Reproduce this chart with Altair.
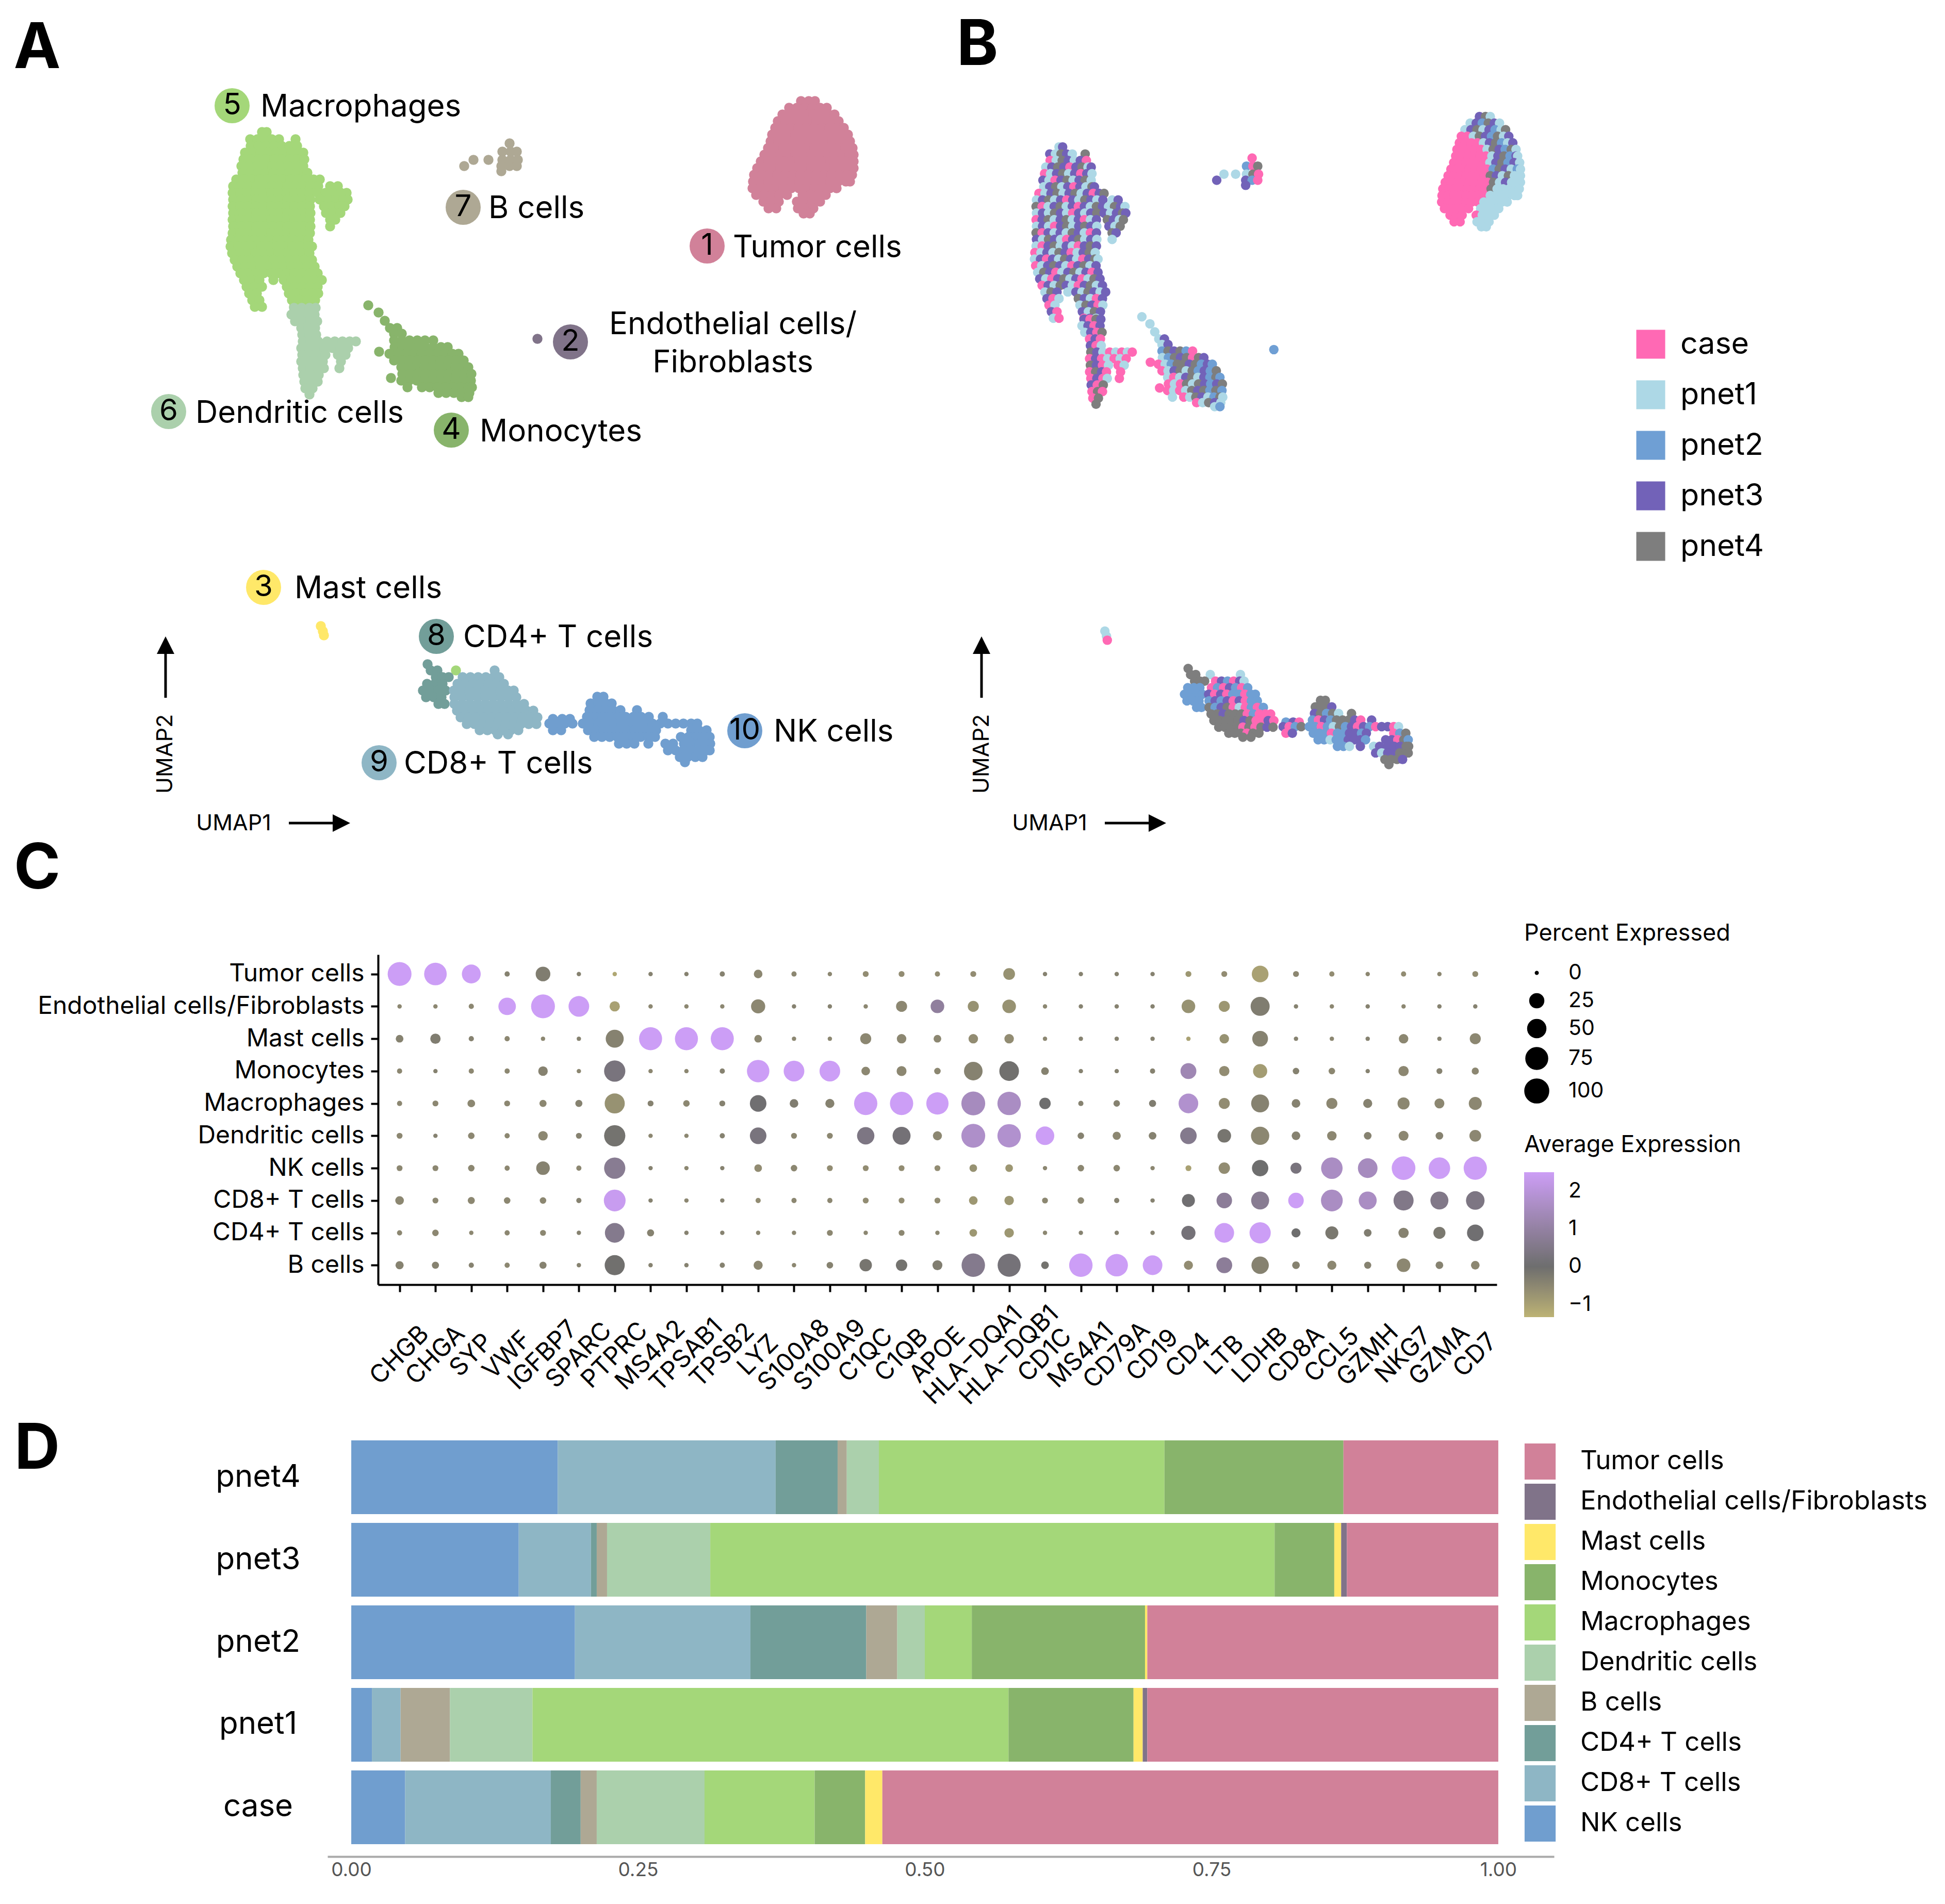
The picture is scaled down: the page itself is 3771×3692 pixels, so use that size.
import altair as alt
import pandas as pd

FONT = "Inter"
CELLS = ["Tumor cells", "Endothelial cells/Fibroblasts", "Mast cells", "Monocytes", "Macrophages",
         "Dendritic cells", "B cells", "CD4+ T cells", "CD8+ T cells", "NK cells"]
CELL_COLORS = ["#d18199", "#807389", "#ffe869", "#88b46b", "#a4d779", "#abd0ac", "#aea894", "#729e99", "#8eb6c5", "#709ecf"]
SAMPLES = ["case", "pnet1", "pnet2", "pnet3", "pnet4"]
SAMPLE_COLORS = ["#ff69b4", "#add8e6", "#6f9fd4", "#7262b8", "#7e7e7e"]
SAMPLE_KEY = dict(zip("abcde", SAMPLES))

TUMOR = [
 (196, "1553d 1568e 1580b"),
 (209, "1530b 1545d 1560c 1575e 1590d 1603b"),
 (222, "1517b 1532d 1547e 1562b 1577d 1592c 1607b 1618e"),
 (235, "1508a 1523a 1538b 1553e 1568d 1583c 1598e 1613b 1626d"),
 (248, "1503a 1518a 1533a 1548a 1563b 1578d 1593e 1608c 1623b 1636d"),
 (261, "1497a 1512a 1527a 1542a 1557a 1572b 1587e 1602d 1617c 1632e 1644b"),
 (274, "1494a 1509a 1524a 1539a 1554a 1569a 1584b 1599d 1614e 1629c 1644d 1648b"),
 (287, "1489a 1504a 1519a 1534a 1549a 1564a 1579b 1594d 1609e 1624c 1639d 1653b"),
 (300, "1482a 1497a 1512a 1527a 1542a 1557a 1572a 1587c 1602e 1617d 1632b 1647c 1655b"),
 (313, "1475a 1490a 1505a 1520a 1535a 1550a 1565a 1580e 1595d 1610b 1625e 1640b 1655b"),
 (326, "1468a 1483a 1498a 1513a 1528a 1543a 1558a 1573a 1588e 1603b 1618d 1633b 1648b 1655b"),
 (339, "1462a 1477a 1492a 1507a 1522a 1537a 1552a 1567a 1582e 1597b 1612b 1627b 1642b 1652b"),
 (352, "1460a 1475a 1490a 1505a 1520a 1535a 1550a 1565a 1580b 1595b 1610b 1625b 1640b 1648b"),
 (365, "1459a 1474a 1489a 1504a 1519a 1534a 1549a 1564b 1579b 1594b 1609b 1622b"),
 (378, "1466a 1481a 1496a 1511a 1526a 1556b 1571b 1586b 1601b"),
 (391, "1480a 1495a 1510a 1545a 1560b 1575b 1590b"),
 (404, "1490a 1505a 1547b 1562b 1577b"),
 (414, "1558b 1570b"),
]
MACRO = [
 (256, "508b 517d"),
 (270, "485d 499b 513e 527d 541b 573e"),
 (283, "486a 501b 516e 531d 546b 561d 576a"),
 (296, "475b 490d 505e 520d 535a 550d 565e 580b 588d"),
 (309, "472a 487b 502d 517e 532b 547d 562a 577d 590b"),
 (322, "468d 483b 498a 513d 528e 543b 558d 573e 588b"),
 (335, "470b 485d 500e 515b 530d 545a 560d 575b 590e 596d"),
 (348, "458a 473b 488d 503e 518b 533d 548e 563b 578d 593a 608d 620e"),
 (361, "452b 467d 482e 497b 512d 527a 542d 557b 572e 587d 602b 617d 640b 655d"),
 (374, "451e 466a 481b 496d 511e 526b 541d 556a 571d 586b 601e 616d 631b 646e 661d 672b"),
 (387, "452b 467d 482b 497e 512d 527b 542a 557d 572b 587d 602e 620d 636b 651d 666e 674d"),
 (400, "451a 466d 481e 496b 511d 526e 541b 556d 571a 586b 601d 628e 643d 658b 668e"),
 (413, "452b 467d 482b 497a 512d 527e 542b 557d 572e 587d 602b 632d 647b 660e"),
 (426, "451e 466a 481d 496b 511d 526b 541e 556d 571b 586a 601d 640e 650d"),
 (439, "452d 467b 482e 497d 512b 527a 542d 557e 572b 587d 602b 640b"),
 (452, "451b 466a 481d 496e 511b 526d 541b 556a 571d 586e 601d"),
 (465, "448a 463b 478d 493b 508e 523d 538a 553b 568d 583e 598b"),
 (478, "447b 462d 477a 492d 507b 522e 537d 552b 567a 582d 597e 605b"),
 (491, "450a 465b 480d 495e 510d 525b 540a 555d 570e 585b 600d"),
 (504, "455b 470e 485d 500a 515b 530d 545e 560b 575d 590a 605d"),
 (517, "460d 475b 490a 505d 520e 535b 550d 565a 580b 595e 610d"),
 (530, "466a 481d 496b 511e 526d 541b 556a 571d 586e 601b 616d"),
 (543, "473b 488e 503d 530b 550d 565b 580e 595d 610b 624d"),
 (556, "478d 493a 508b 556e 571d 586b 601a 616d"),
 (569, "483a 498b 560b 575e 590d 605a 617b"),
 (582, "489d 503a 566d 581b 596e 611d"),
 (595, "494b 508a 570a 585d 600b"),
 (1300, "884b"),
]
DENDRITIC = [
 (597, "570d 585a 600e 612d"),
 (610, "565b 580d 595a 610d"),
 (623, "572b 587d 602a 615e"),
 (636, "584a 598d 611a"),
 (649, "586d 600a 613b"),
 (662, "587e 602d 617b 634a 649b 664a 678b 690a"),
 (675, "584a 599d 614a 629b 645a 660b 675a"),
 (688, "586e 601d 616a 631b 655a 670b"),
 (701, "584a 599e 614d 626a 661a"),
 (714, "587a 602d 617a 628b 658a"),
 (727, "588d 603a 618e"),
 (740, "590a 604e 616a"),
 (753, "592a 606e"),
 (765, "600e"),
]
MONO = [
 (592, "714b"), (606, "734b"), (622, "746b"),
 (636, "756b 770d"),
 (647, "764b 779d"),
 (660, "764c 779e 794d 809e 824c 840a"),
 (673, "765b 780c 795e 810d 825e 840a 855e 868d"),
 (682, "735a"),
 (686, "755a 772b 787c 802e 817e 832d 847e 862c 877d 889c"),
 (699, "764a 779b 794d 809e 824b 839e 854c 869d 884c 899e"),
 (712, "778b 793a 808b 823d 838e 853b 868d 883c 898e 908c"),
 (725, "780a 795b 810a 825e 840b 855e 870d 885c 900d 914e"),
 (733, "758a"),
 (738, "778a 793b 808a 823b 838e 853d 868e 883c 898e 913c"),
 (751, "790b 818a 833b 848e 863d 878b 893c 908e 915b"),
 (762, "850a 865b 880e 895d 910b"),
 (770, "895b 908c"),
]
BCELL = [
 (278, "988a"), (294, "974c 990a 1002e"), (310, "974b 990e 1004a 947b 918b"),
 (322, "972d 988c 1002a 900d"), (332, "972d"),
]
ENDO = [(657, "1042c")]
MAST = [(1214, "622b"), (1224, "626b"), (1232, "628a")]
CD4 = [
 (1288, "829e"), (1300, "835e 848e"), (1313, "845e 858e 870e"),
 (1326, "828c 843c 858c"), (1339, "820c 835c 850c 864c"),
 (1352, "826c 841c 856c"), (1365, "850c 862c"),
]
CD8 = [
 (1300, "959b"),
 (1313, "897a 912d 927c 942a 957d 968b"),
 (1326, "887a 902c 917a 932d 947c 962a 977c"),
 (1339, "880d 895a 910d 925a 940c 955c 970a 985c 996c"),
 (1352, "881c 896d 911c 926d 941a 956d 971a 986c 1001c"),
 (1365, "881e 896c 911d 926e 941a 956b 971a 986c 1001a 1016c"),
 (1378, "886e 901e 916d 931e 946e 961e 976a 991c 1006a 1021a 1034a"),
 (1391, "893e 908e 923e 938e 953e 968d 983e 998a 1013a 1028d 1042a"),
 (1404, "905e 920e 935e 950e 965a 980e 995a 1010e 1025d 1040e"),
 (1416, "930e 945e 960e 975a 990e 1005e"),
 (1424, "965e 985e"),
]
NK = [
 (1351, "1158e 1170e"),
 (1364, "1145e 1160e 1175e 1186d"),
 (1377, "1143d 1158e 1173c 1188e 1203b 1235e"),
 (1390, "1138c 1153a 1168d 1183c 1198e 1213e 1228e 1243d 1258a 1285d"),
 (1394, "1072c 1090d 1105a"),
 (1403, "1065d 1080a 1095c 1110e 1130c 1145c 1160a 1175c 1190b 1205e 1220c 1235d 1250a 1265d 1280c 1295a 1310d 1325d 1340a 1352b"),
 (1416, "1072a 1088d 1140c 1155c 1170c 1185a 1200c 1215c 1230d 1245d 1260c 1272d 1340a 1355c 1370e"),
 (1429, "1152c 1167c 1182b 1197c 1212c 1227d 1242d 1257d 1270c 1320d 1335d 1350a 1365e 1376c"),
 (1442, "1200c 1215c 1230b 1257d 1290b 1305d 1326d 1341d 1356d 1371e 1377e"),
 (1455, "1295d 1310b 1325d 1340d 1355e 1370e 1376e"),
 (1468, "1318e 1333e 1348e 1362d"),
 (1478, "1328e"),
]
CLUSTERS = [("Macrophages", MACRO), ("Tumor cells", TUMOR), ("Dendritic cells", DENDRITIC), ("Monocytes", MONO),
            ("B cells", BCELL), ("Endothelial cells/Fibroblasts", ENDO), ("Mast cells", MAST),
            ("CD4+ T cells", CD4), ("CD8+ T cells", CD8), ("NK cells", NK)]

records = []
for cell, rows in CLUSTERS:
    for u2, toks in rows:
        for t in toks.split():
            records.append({"cell": cell, "umap1": int(t[:-1]), "umap2": u2, "sample": SAMPLE_KEY[t[-1]]})
umap = pd.DataFrame(records)

# Annotated cluster labels of panel A
BADGES = [("5", "Macrophages", 450, 205), ("7", "B cells", 898, 402), ("1", "Tumor cells", 1371, 477),
          ("2", "Endothelial cells/Fibroblasts", 1106, 663), ("6", "Dendritic cells", 327, 798),
          ("4", "Monocytes", 875, 834), ("3", "Mast cells", 511, 1139), ("8", "CD4+ T cells", 846, 1234),
          ("9", "CD8+ T cells", 735, 1479), ("10", "NK cells", 1444, 1417)]
LABELS_LEFT = [("Macrophages", 505, 208), ("B cells", 947, 405), ("Tumor cells", 1421, 481), ("Dendritic cells", 379, 802),
               ("Monocytes", 930, 838), ("Mast cells", 571, 1142), ("CD4+ T cells", 898, 1237), ("CD8+ T cells", 783, 1482),
               ("NK cells", 1500, 1420)]
LABELS_CENTER = [("Endothelial cells/", 1421, 630), ("Fibroblasts", 1421, 704)]
PANEL_LETTERS = [("A", 72, 95), ("B", 1895, 89), ("C", 72, 1686), ("D", 72, 2811)]
UMAP1_TEXT = [("UMAP1", 453, 1597), ("UMAP1", 2035, 1597)]
UMAP2_TEXT = [("UMAP2", 321, 1462), ("UMAP2", 1904, 1462)]
ARROWS_V = [(321, 1353, 1250), (1903, 1353, 1250)]
ARROWS_H = [(560, 660, 1596), (2142, 2242, 1596)]
HEADS_UP = [(321, 1251), (1903, 1251)]
HEADS_RIGHT = [(662, 1596), (2244, 1596)]
GRADIENT_TICKS = [(2955, 2967, 2308), (2997, 3009, 2308), (2955, 2967, 2381), (2997, 3009, 2381),
                  (2955, 2967, 2454), (2997, 3009, 2454), (2955, 2967, 2528), (2997, 3009, 2528)]

GENES = ["CHGB", "CHGA", "SYP", "VWF", "IGFBP7", "SPARC", "PTPRC", "MS4A2", "TPSAB1", "TPSB2", "LYZ", "S100A8", "S100A9",
         "C1QC", "C1QB", "APOE", "HLA\u2212DQA1", "HLA\u2212DQB1", "CD1C", "MS4A1", "CD79A", "CD19", "CD4", "LTB", "LDHB",
         "CD8A", "CCL5", "GZMH", "NKG7", "GZMA", "CD7"]
DOT_ROWS = ["Tumor cells", "Endothelial cells/Fibroblasts", "Mast cells", "Monocytes", "Macrophages", "Dendritic cells",
            "NK cells", "CD8+ T cells", "CD4+ T cells", "B cells"]
PCT = [
 [95, 80, 52, 2, 26, 1, 1, 1, 1, 2, 8, 2, 1, 3, 3, 2, 3, 16, 1, 1, 1, 1, 3, 3, 38, 3, 2, 1, 2, 1, 3],
 [1, 1, 2, 43, 95, 64, 12, 1, 1, 1, 24, 1, 1, 1, 14, 22, 14, 22, 1, 1, 1, 1, 22, 14, 53, 1, 1, 1, 1, 1, 1],
 [6, 12, 2, 2, 1, 1, 46, 85, 85, 85, 6, 1, 1, 14, 10, 6, 10, 10, 1, 1, 1, 1, 1, 10, 32, 1, 1, 1, 10, 1, 14],
 [2, 1, 2, 2, 10, 1, 68, 1, 1, 2, 78, 64, 64, 8, 11, 4, 50, 57, 6, 1, 1, 2, 33, 12, 24, 4, 4, 1, 12, 3, 5],
 [2, 3, 6, 3, 5, 5, 60, 3, 4, 3, 37, 8, 9, 88, 88, 76, 95, 90, 15, 2, 4, 5, 57, 14, 46, 8, 14, 9, 17, 11, 20],
 [3, 1, 4, 2, 10, 3, 68, 1, 1, 2, 37, 3, 3, 42, 46, 9, 95, 90, 50, 4, 7, 6, 37, 22, 48, 8, 10, 6, 11, 6, 16],
 [3, 3, 4, 2, 22, 2, 68, 1, 1, 1, 6, 4, 3, 3, 3, 3, 6, 6, 1, 4, 4, 1, 3, 15, 36, 14, 70, 57, 93, 70, 88],
 [8, 3, 5, 4, 4, 2, 72, 1, 1, 1, 2, 2, 2, 3, 3, 3, 8, 10, 3, 4, 2, 1, 20, 31, 46, 31, 72, 46, 60, 46, 50],
 [2, 4, 1, 2, 3, 1, 57, 5, 1, 1, 1, 1, 3, 1, 3, 1, 6, 10, 1, 1, 1, 1, 24, 57, 68, 9, 20, 6, 12, 17, 37],
 [7, 5, 2, 2, 5, 1, 60, 1, 1, 2, 9, 1, 4, 18, 15, 11, 90, 85, 6, 90, 78, 57, 9, 33, 42, 6, 9, 5, 22, 6, 8],
]
EXPR = [
 [2.5, 2.5, 2.5, -.4, -.3, -.4, -1.1, -.4, -.4, -.4, -.5, -.5, -.5, -.6, -.6, -.6, -.6, -.7, -.4, -.4, -.4, -.4, -.8, -.6, -1, -.5, -.6, -.5, -.6, -.5, -.6],
 [-.5, -.5, -.5, 2.5, 2.5, 2.5, -1, -.5, -.5, -.5, -.5, -.4, -.4, -.5, -.5, .9, -.7, -.7, -.5, -.4, -.4, -.4, -.7, -.8, -.3, -.4, -.5, -.4, -.5, -.4, -.4],
 [-.4, -.3, -.4, -.5, -.5, -.4, -.4, 2.5, 2.5, 2.5, -.5, -.5, -.5, -.5, -.5, -.5, -.6, -.6, -.5, -.4, -.4, -.4, -1, -.7, -.4, -.4, -.5, -.4, -.5, -.4, -.5],
 [-.5, -.4, -.5, -.5, -.4, -.5, .3, -.5, -.5, -.4, 2.5, 2.5, 2.5, -.5, -.5, -.5, -.4, -.05, -.4, -.4, -.4, -.4, 1.3, -.6, -.9, -.4, -.5, -.4, -.5, -.4, -.5],
 [-.5, -.5, -.5, -.5, -.5, -.4, -.7, -.4, -.5, -.4, .05, -.3, -.4, 2.5, 2.5, 2.5, 1.5, 1.6, 0, -.4, -.4, -.3, 1.8, -.6, -.4, -.4, -.5, -.4, -.5, -.5, -.5],
 [-.5, -.4, -.5, -.5, -.5, -.4, -.1, -.5, -.5, -.4, .3, -.5, -.5, .4, .15, -.5, 1.7, 1.8, 2.5, -.4, -.5, -.4, .6, -.15, -.5, -.4, -.5, -.4, -.5, -.4, -.5],
 [-.5, -.5, -.5, -.5, -.4, -.5, .7, -.4, -.5, -.4, -.6, -.5, -.6, -.6, -.6, -.6, -.7, -.8, -.5, -.5, -.5, -.5, -1, -.6, 0, .3, 1.6, 1.5, 2.5, 2.5, 2.5],
 [-.5, -.5, -.5, -.5, -.5, -.4, 2.4, -.4, -.5, -.4, -.6, -.5, -.5, -.6, -.6, -.6, -.8, -.8, -.5, -.5, -.4, -.4, .05, .8, .7, 2.5, 1.6, 1.6, .5, .5, .4],
 [-.5, -.5, -.5, -.5, -.5, -.4, .6, -.4, -.4, -.4, -.5, -.5, -.5, -.5, -.5, -.5, -.8, -.8, -.5, -.4, -.4, -.4, .2, 2.5, 2.5, 0, -.2, -.3, -.4, -.2, .05],
 [-.4, -.4, -.4, -.5, -.4, -.4, -.05, -.4, -.4, -.4, -.5, -.5, -.4, -.15, -.1, -.3, .6, .2, -.1, 2.5, 2.5, 2.5, -.6, .8, -.4, -.4, -.5, -.4, -.5, -.4, -.5],
]
dots = pd.DataFrame([{"row": r, "gene": g, "pct": PCT[i][j], "expr": EXPR[i][j]}
                     for i, r in enumerate(DOT_ROWS) for j, g in enumerate(GENES)])

STACK_ORDER = ["NK cells", "CD8+ T cells", "CD4+ T cells", "B cells", "Dendritic cells", "Macrophages", "Monocytes",
               "Mast cells", "Endothelial cells/Fibroblasts", "Tumor cells"]
BAR_SAMPLES = ["pnet4", "pnet3", "pnet2", "pnet1", "case"]
SHARES = {
 "pnet4": [.180, .190, .054, .008, .028, .249, .156, 0, 0, .135],
 "pnet3": [.146, .063, .005, .009, .090, .492, .052, .006, .005, .132],
 "pnet2": [.195, .153, .101, .027, .024, .041, .151, .002, 0, .306],
 "pnet1": [.018, .025, 0, .043, .072, .415, .109, .008, .004, .306],
 "case":  [.047, .127, .026, .014, .094, .096, .044, .015, 0, .537],
}
bars = pd.DataFrame([{"sample": s, "cell": c, "share": SHARES[s][k], "rank": k}
                     for s in BAR_SAMPLES for k, c in enumerate(STACK_ORDER) if SHARES[s][k] > 0])

# ---------- scales for panels A / B ----------
XA = alt.Scale(domain=[8, 1008], range=[0, 1000])
YA = alt.Scale(domain=[8, 1008], range=[0, 1000])
XB = alt.Scale(domain=[0, 1000], range=[1649, 2429])
YB = alt.Scale(domain=[0, 1000], range=[26, 1006])
cell_scale = alt.Scale(domain=CELLS, range=CELL_COLORS)


def pxdf(rows, names):
    return pd.DataFrame(rows, columns=names)


def text_layer(rows, **kw):
    return alt.Chart(pxdf(rows, ["t", "x", "y"])).mark_text(font=FONT, baseline="middle", color="black", **kw).encode(
        x=alt.X("x:Q", scale=XA, axis=None), y=alt.Y("y:Q", scale=YA, axis=None), text="t:N")


points_a = alt.Chart(umap).mark_circle(size=380, opacity=1).encode(
    x=alt.X("umap1:Q", scale=XA, axis=None), y=alt.Y("umap2:Q", scale=YA, axis=None),
    color=alt.Color("cell:N", scale=cell_scale, legend=None))

points_b = alt.Chart(umap).mark_circle(size=340, opacity=1).encode(
    x=alt.X("umap1:Q", scale=XB, axis=None), y=alt.Y("umap2:Q", scale=YB, axis=None),
    color=alt.Color("sample:N", scale=alt.Scale(domain=SAMPLES, range=SAMPLE_COLORS),
                    legend=alt.Legend(orient="none", legendX=3163, legendY=630, title=None, symbolType="square",
                                      symbolSize=3136, symbolOpacity=1, labelFont=FONT, labelFontSize=59,
                                      labelColor="black", labelOffset=28, rowPadding=38, labelLimit=1000)))

badge_df = pxdf(BADGES, ["n", "cell", "x", "y"])
badges = alt.Chart(badge_df).mark_circle(size=4624, opacity=1).encode(
    x=alt.X("x:Q", scale=XA, axis=None), y=alt.Y("y:Q", scale=YA, axis=None),
    color=alt.Color("cell:N", scale=cell_scale, legend=None))
badge_text = alt.Chart(badge_df).mark_text(font=FONT, fontSize=58, baseline="middle", align="center", color="black").encode(
    x=alt.X("x:Q", scale=XA, axis=None), y=alt.Y("y:Q", scale=YA, axis=None), text="n:N")

rule_v = alt.Chart(pxdf(ARROWS_V, ["x", "y", "y2"])).mark_rule(strokeWidth=5, color="black").encode(
    x=alt.X("x:Q", scale=XA, axis=None), y=alt.Y("y:Q", scale=YA, axis=None), y2="y2:Q")
rule_h = alt.Chart(pxdf(ARROWS_H, ["x", "x2", "y"])).mark_rule(strokeWidth=5, color="black").encode(
    x=alt.X("x:Q", scale=XA, axis=None), x2="x2:Q", y=alt.Y("y:Q", scale=YA, axis=None))
head_up = alt.Chart(pxdf(HEADS_UP, ["x", "y"])).mark_point(shape="M-1,1L0,-1L1,1Z", size=1156, filled=True, color="black", opacity=1).encode(
    x=alt.X("x:Q", scale=XA, axis=None), y=alt.Y("y:Q", scale=YA, axis=None))
head_right = alt.Chart(pxdf(HEADS_RIGHT, ["x", "y"])).mark_point(shape="M-1,-1L1,0L-1,1Z", size=1156, filled=True, color="black", opacity=1).encode(
    x=alt.X("x:Q", scale=XA, axis=None), y=alt.Y("y:Q", scale=YA, axis=None))

top = alt.layer(
    points_a, points_b, badges, badge_text,
    text_layer(LABELS_LEFT, fontSize=60, align="left"),
    text_layer(LABELS_CENTER, fontSize=60, align="center"),
    text_layer(UMAP1_TEXT, fontSize=43, align="center"),
    text_layer(UMAP2_TEXT, fontSize=43, align="center", angle=270),
    text_layer(PANEL_LETTERS, fontSize=122, align="center", fontWeight="bold"),
    rule_v, rule_h, head_up, head_right,
).resolve_scale(x="independent", y="independent", color="independent").properties(width=3755, height=1562)

# ---------- panel C ----------
dot_marks = alt.Chart(dots).mark_circle(opacity=1).encode(
    x=alt.X("gene:N", sort=GENES, title=None,
            scale=alt.Scale(type="point", padding=0.6, range=[725, 2894]),
            axis=alt.Axis(labelAngle=-45, labelAlign="center", labelBaseline="middle", labelPadding=123, tickSize=14,
                          tickWidth=4, domainWidth=4, domainColor="black", tickColor="black", labelFont=FONT,
                          labelFontSize=48, labelColor="black", labelOverlap=False, labelBound=False, labelFlush=False,
                          labelLimit=1000, grid=False)),
    y=alt.Y("row:N", sort=DOT_ROWS, title=None,
            scale=alt.Scale(type="point", padding=0.6, range=[3, 643]),
            axis=alt.Axis(offset=-725, tickSize=14, tickWidth=4, domainWidth=4, domainColor="black", tickColor="black",
                          labelFont=FONT, labelFontSize=48, labelColor="black", labelPadding=13, labelLimit=1000,
                          grid=False)),
    size=alt.Size("pct:Q", scale=alt.Scale(domain=[0, 25, 50, 75, 100], range=[42, 784, 1296, 1849, 2209]),
                  legend=alt.Legend(orient="none", legendX=2947, legendY=-60, title="Percent Expressed",
                                    values=[0, 25, 50, 75, 100], titleFont=FONT, titleFontSize=45,
                                    titleFontWeight="normal", titleColor="black", titlePadding=33, labelFont=FONT,
                                    labelFontSize=41, labelColor="black", labelOffset=37, symbolFillColor="black",
                                    symbolStrokeColor="black", symbolType="circle", symbolOpacity=1, rowPadding=12,
                                    titleLimit=1000)),
    color=alt.Color("expr:Q", scale=alt.Scale(domain=[-1.33, 0, 2.5], range=["#bdb374", "#6e6e6e", "#cc9ef6"]),
                    legend=alt.Legend(orient="none", legendX=2947, legendY=350, title="Average Expression",
                                      values=[-1, 0, 1, 2], gradientLength=281, gradientThickness=58, titleFont=FONT,
                                      titleFontSize=45, titleFontWeight="normal", titleColor="black", titlePadding=30,
                                      labelFont=FONT, labelFontSize=41, labelColor="black", labelOffset=28,
                                      titleLimit=1000)),
)
grad_ticks = alt.Chart(pxdf(GRADIENT_TICKS, ["x", "x2", "y"])).mark_rule(strokeWidth=2, color="white").encode(
    x=alt.X("x:Q", scale=alt.Scale(domain=[8, 1008], range=[0, 1000]), axis=None), x2="x2:Q",
    y=alt.Y("y:Q", scale=alt.Scale(domain=[1848, 2848], range=[0, 1000]), axis=None))
dotplot = alt.layer(dot_marks, grad_ticks).resolve_scale(x="independent", y="independent").properties(width=3755, height=643)

# ---------- panel D ----------
stack = alt.Chart(bars).mark_bar().encode(
    x=alt.X("share:Q", stack="zero", title=None,
            scale=alt.Scale(domain=[-0.0207, 1.0486], range=[627, 3005], nice=False, zero=False),
            axis=alt.Axis(values=[0, .25, .5, .75, 1], format=".2f", domainColor="#a9a9a9", domainWidth=4, tickSize=0,
                          labelFont=FONT, labelFontSize=37, labelColor="#555555", labelPadding=8, grid=False,
                          labelFlush=False)),
    y=alt.Y("sample:N", sort=BAR_SAMPLES, title=None,
            scale=alt.Scale(paddingInner=0.106, paddingOuter=0.15, range=[0, 831]),
            axis=alt.Axis(offset=-627, labelAlign="center", labelPadding=135, tickSize=0, domain=False, labelFont=FONT,
                          labelFontSize=60, labelColor="black", grid=False)),
    color=alt.Color("cell:N", scale=cell_scale,
                    legend=alt.Legend(orient="none", legendX=2942, legendY=29, title=None,
                                      symbolType="M-0.86,-1H0.86V1H-0.86Z", symbolSize=4900, symbolOpacity=1,
                                      labelFont=FONT, labelFontSize=51, labelColor="black", labelOffset=42, rowPadding=7,
                                      labelLimit=1000)),
    order=alt.Order("rank:Q"),
).properties(width=3755, height=831)

chart = (alt.vconcat(top, dotplot, stack, spacing=278, bounds="flush")
         .resolve_scale(size="independent", color="independent")
         .properties(padding=0).configure_view(stroke=None))

chart.save("out.html", embed_options={"renderer": "svg", "actions": False})
